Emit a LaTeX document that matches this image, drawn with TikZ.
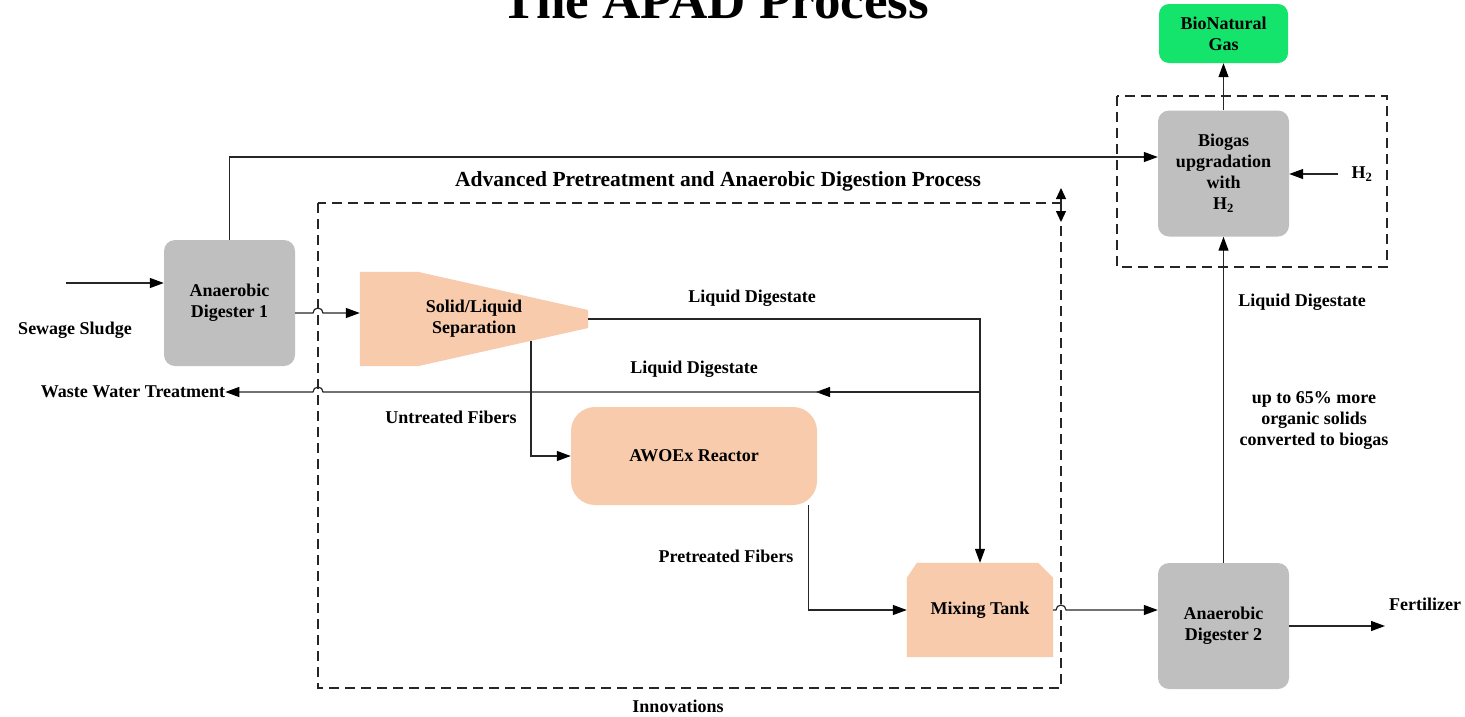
\documentclass[tikz,border=0pt]{standalone}
\usepackage{fontspec}
\setmainfont{Liberation Serif}
\usetikzlibrary{arrows.meta,calc}

\definecolor{boxgray}{HTML}{BFBFBF}
\definecolor{peach}{HTML}{F8CBAD}
\definecolor{gasgreen}{HTML}{14E36C}
\definecolor{linegray}{HTML}{262626}

\begin{document}
\begin{tikzpicture}[x=1pt,y=-1pt,
  lbl/.style={font=\fontsize{18}{21}\selectfont\bfseries, align=center, inner sep=0pt},
  graybox/.style={lbl, fill=boxgray, rounded corners=11pt, minimum width=131pt, minimum height=126pt},
  conn/.style={draw=linegray, line width=1.2pt},
  arr/.style={conn, -{Triangle[length=14pt,width=10pt,color=black]}},
  dashbox/.style={draw=linegray, line width=1.6pt, dash pattern=on 10pt off 6pt},
  hopr/.style={radius=5pt}
]
\useasboundingbox (0,0) rectangle (1465,716);

% title, partly above the page edge
\node[font=\fontsize{53}{60}\selectfont\bfseries, anchor=base, inner sep=0pt] (title) at (715,18) {The APAD Process};

% dashed frames
\draw[dashbox] (318,203) rectangle (1061,688);
\draw[dashbox] (1117,96) rectangle (1387,267);
\draw[conn, {Triangle[length=11pt,width=10pt,color=black]}-{Triangle[length=11pt,width=10pt,color=black]}] (1061,188) -- (1061,222);

\node[font=\fontsize{21.5}{24}\selectfont\bfseries, inner sep=0pt] (apadhead) at (718,181) {Advanced Pretreatment and Anaerobic Digestion Process};
\node[lbl] (innov) at (678,706) {Innovations};

% process units
\node[graybox] (ad1) at (229.5,303) {Anaerobic\\Digester 1};
\node[graybox] (ad2) at (1223.5,626) {Anaerobic\\Digester 2};
\node[graybox] (biogas) at (1223.5,173.5) {Biogas\\upgradation\\with\\H\textsubscript{2}};
\node[lbl, fill=gasgreen, rounded corners=10pt, minimum width=129pt, minimum height=59pt] (bng) at (1223.5,33.5) {BioNatural\\Gas};

% solid/liquid separator (tapered shape)
\node[lbl, minimum width=228pt, minimum height=94pt] (sl) at (474,319) {};
\fill[peach] (sl.north west) -- ++(58,0) -- ($(sl.east)+(0,-9)$) -- ($(sl.east)+(0,9)$) -- ($(sl.south west)+(58,0)$) -- (sl.south west) -- cycle;
\node[lbl] (sltext) at (474,319) {Solid/Liquid\\Separation};

% AWOEx reactor
\node[lbl, fill=peach, rounded corners=24pt, minimum width=246pt, minimum height=98pt] (awoex) at (694,456) {AWOEx Reactor};

% mixing tank (chamfered top corners)
\node[lbl, minimum width=146pt, minimum height=94pt] (mix) at (980,610) {};
\fill[peach] (mix.south west) -- ($(mix.north west)+(0,15)$) -- ($(mix.north west)+(10,0)$) -- ($(mix.north east)+(-15,0)$) -- ($(mix.north east)+(0,15)$) -- (mix.south east) -- cycle;
\node[lbl] (mixtext) at (980,610) {Mixing Tank};

% side labels
\node[lbl] (sewage) at (75,330) {Sewage Sludge};
\node[lbl] (wwt) at (133,392) {Waste Water Treatment};
\node[lbl] (ld1) at (752,298) {Liquid Digestate};
\node[lbl] (ld2) at (694,369) {Liquid Digestate};
\node[lbl] (ld3) at (1302,302) {Liquid Digestate};
\node[lbl] (untreated) at (451,417) {Untreated Fibers};
\node[lbl] (pretreated) at (726,556) {Pretreated Fibers};
\node[lbl] (more) at (1314,420) {up to 65\% more\\organic solids\\converted to biogas};
\node[lbl] (fert) at (1425,604) {Fertilizer};
\node[lbl] (h2) at (1362,174) {H\textsubscript{2}};

% free ends and junctions
\coordinate (sewin) at (66,283);
\coordinate (fertout) at (1385,626);
\coordinate (h2in) at (1338,174);
\coordinate (slS) at (531,341);
\coordinate (branch) at ($(mix.north |- 0,392)$);

% connectors (small hops where they cross the dashed frame)
\draw[arr] (sewin) -- (ad1.west |- sewin);
\draw[arr] (ad1.north) -- (ad1.north |- 0,157) -- (biogas.west |- 0,157);
\draw[arr] (ad1.east |- 0,313) -- (313,313) arc[start angle=180,end angle=0,hopr] -- (sl.west |- 0,313);
\draw[arr] (sl.east) -| (mix.north);
\draw[arr] (branch) -- (816,392);
\draw[arr] (820,392) -- (323,392) arc[start angle=0,end angle=180,hopr] -- (wwt.east);
\draw[arr] (slS) |- (awoex.west);
\draw[arr] ($(awoex.south east)+(-9,0)$) |- (mix.west);
\draw[arr] (mix.east) -- (1056,610) arc[start angle=180,end angle=0,hopr] -- (ad2.west |- mix.east);
\draw[arr] (ad2.east) -- (fertout);
\draw[arr] (ad2.north) -- (biogas.south);
\draw[arr] (h2in) -- (biogas.east |- h2in);
\draw[arr] (biogas.north) -- (bng.south);
\end{tikzpicture}
\end{document}
